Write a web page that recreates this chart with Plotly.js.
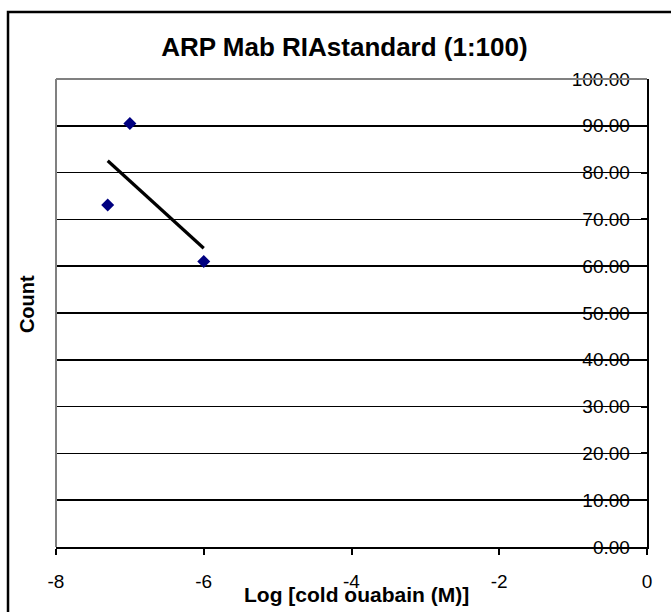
<!DOCTYPE html>
<html>
<head>
<meta charset="utf-8">
<script src="https://cdn.plot.ly/plotly-3.0.1.min.js"></script>
<style>
  html, body { margin: 0; padding: 0; background: #fff; }
  #chart { width: 671px; height: 612px; }
</style>
</head>
<body>
<div id="chart"></div>
<script>
// Data
const logConc = [-7.3, -7.0, -6.0];
const counts = [73.1, 90.5, 61.0];
const xTickVals = [-8, -6, -4, -2, 0];
const xTickText = ['-8', '-6', '-4', '-2', '0'];
const yTickVals = [0, 10, 20, 30, 40, 50, 60, 70, 80, 90, 100];

// Linear trendline (least squares) computed from the data
const n = logConc.length;
const mx = logConc.reduce((a, b) => a + b, 0) / n;
const my = counts.reduce((a, b) => a + b, 0) / n;
let sxy = 0, sxx = 0;
for (let i = 0; i < n; i++) {
  sxy += (logConc[i] - mx) * (counts[i] - my);
  sxx += (logConc[i] - mx) ** 2;
}
const slope = sxy / sxx;
const intercept = my - slope * mx;
const trendX = [Math.min(...logConc), Math.max(...logConc)];
const trendY = trendX.map(v => intercept + slope * v);

const FONT = 'Arial, "Liberation Sans", sans-serif';

const traces = [
  {
    x: trendX, y: trendY, type: 'scatter', mode: 'lines', yaxis: 'y',
    line: { color: '#000000', width: 3.2 }, hoverinfo: 'skip', showlegend: false
  },
  {
    x: logConc, y: counts, type: 'scatter', mode: 'markers', yaxis: 'y2',
    marker: { symbol: 'diamond', size: 10, color: '#000080' }, showlegend: false
  }
];

const layout = {
  width: 671, height: 612,
  margin: { l: 56, r: 24, t: 79, b: 65 },
  paper_bgcolor: '#ffffff', plot_bgcolor: '#ffffff',
  font: { family: FONT, color: '#000000' },
  showlegend: false,
  title: {
    text: '<b>ARP Mab RIAstandard (1:100)</b>',
    font: { family: FONT, size: 26, color: '#000000' },
    xref: 'paper', x: 0.488, xanchor: 'center',
    yref: 'container', y: 1 - 47 / 612, yanchor: 'middle'
  },
  xaxis: {
    range: [-8, 0], tickvals: xTickVals, ticktext: xTickText,
    ticks: 'outside', ticklen: 6, tickwidth: 2, tickcolor: '#000',
    showline: true, linecolor: '#000', linewidth: 2,
    showgrid: false, zeroline: false,
    tickfont: { family: FONT, size: 19, color: '#000' },
    ticklabelstandoff: 10
  },
  yaxis: {
    range: [0, 100], tickvals: yTickVals,
    side: 'right', showticklabels: false,
    ticks: 'inside', ticklen: 6, tickwidth: 2, tickcolor: '#000',
    showline: true, linecolor: '#000', linewidth: 2,
    showgrid: true, gridcolor: '#000', gridwidth: 1.5, zeroline: false
  },
  yaxis2: {
    range: [0, 100], tickvals: yTickVals, tickformat: '.2f',
    overlaying: 'y', anchor: 'free', side: 'left', position: 0.971,
    showline: false, ticks: '', showgrid: false, zeroline: false,
    tickfont: { family: FONT, size: 19, color: '#000' }
  },
  annotations: [
    {
      text: '<b>Count</b>', textangle: -90,
      font: { family: FONT, size: 20, color: '#000' },
      xref: 'paper', yref: 'paper', x: -0.05, y: 0.52,
      xanchor: 'center', yanchor: 'middle', showarrow: false
    },
    {
      text: '<b>Log [cold ouabain (M)]</b>',
      font: { family: FONT, size: 21, color: '#000' },
      xref: 'paper', yref: 'paper', x: 0.509, y: -0.102,
      xanchor: 'center', yanchor: 'middle', showarrow: false
    }
  ],
  shapes: [
    // plot-area border (left and top, grey)
    { type: 'line', xref: 'paper', yref: 'paper', x0: 0, x1: 0, y0: 0, y1: 1, line: { color: '#808080', width: 2 }, layer: 'above' },
    { type: 'line', xref: 'paper', yref: 'paper', x0: 0, x1: 1, y0: 1, y1: 1, line: { color: '#808080', width: 2 }, layer: 'above' },
    // chart outer border
    { type: 'rect', xref: 'paper', yref: 'paper', x0: -0.0812, x1: 1.2, y0: -0.3, y1: 1.1432, line: { color: '#000', width: 2.5 }, fillcolor: 'rgba(0,0,0,0)' }
  ]
};

Plotly.newPlot('chart', traces, layout, { displayModeBar: false, staticPlot: true });
</script>
</body>
</html>
